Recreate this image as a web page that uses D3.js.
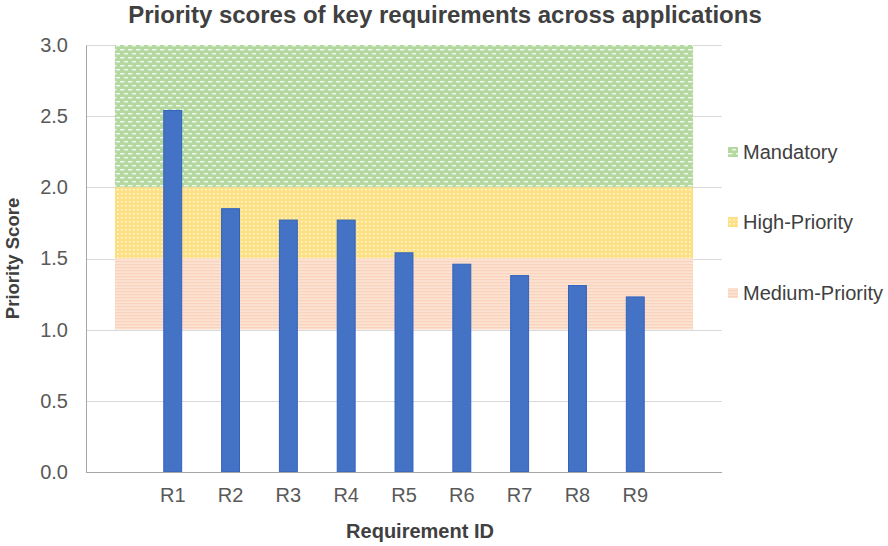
<!DOCTYPE html>
<html>
<head>
<meta charset="utf-8">
<script src="https://cdn.jsdelivr.net/npm/d3@7"></script>
<style>
  body { margin: 0; background: #fff; }
  text { font-family: "Liberation Sans", Arial, sans-serif; }
</style>
</head>
<body>
<div id="chart"></div>
<script>
// data
const requirements = ["R1", "R2", "R3", "R4", "R5", "R6", "R7", "R8", "R9"];
const scores = [2.54, 1.85, 1.77, 1.77, 1.54, 1.46, 1.38, 1.31, 1.23];
const bandNames = ["Mandatory", "High-Priority", "Medium-Priority"];
const bandLower = [2.0, 1.5, 1.0];
const bandUpper = [3.0, 2.0, 1.5];
const yTicks = [0, 0.5, 1.0, 1.5, 2.0, 2.5, 3.0];

const width = 888, height = 546;
const margin = { top: 45, right: 166, bottom: 74, left: 86 };

const svg = d3.select("#chart").append("svg")
    .attr("width", width)
    .attr("height", height)
    .attr("viewBox", [0, 0, width, height]);

// fill patterns, roughly like the office ones
const defs = svg.append("defs");

const pGreen = defs.append("pattern").attr("id", "pat-mandatory")
    .attr("patternUnits", "userSpaceOnUse").attr("width", 8).attr("height", 8);
pGreen.append("rect").attr("width", 8).attr("height", 8).attr("fill", "#b4d9a0");
pGreen.append("rect").attr("x", 0).attr("y", 1).attr("width", 4.5).attr("height", 1.4).attr("fill", "#f4faf0");
pGreen.append("rect").attr("x", 4).attr("y", 5).attr("width", 4.5).attr("height", 1.4).attr("fill", "#f4faf0");

const pYellow = defs.append("pattern").attr("id", "pat-high")
    .attr("patternUnits", "userSpaceOnUse").attr("width", 4).attr("height", 4);
pYellow.append("rect").attr("width", 4).attr("height", 4).attr("fill", "#fee084");
pYellow.append("rect").attr("x", 1).attr("y", 1).attr("width", 1.6).attr("height", 1.6).attr("fill", "#fff6d8");

const pPeach = defs.append("pattern").attr("id", "pat-medium")
    .attr("patternUnits", "userSpaceOnUse").attr("width", 4).attr("height", 3);
pPeach.append("rect").attr("width", 4).attr("height", 3).attr("fill", "#f9d3bb");
pPeach.append("rect").attr("y", 1.5).attr("width", 4).attr("height", 1.2).attr("fill", "#fde9dc");

const bandFill = ["url(#pat-mandatory)", "url(#pat-high)", "url(#pat-medium)"];

const x = d3.scaleBand()
    .domain(requirements)
    .range([margin.left, width - margin.right])
    .paddingInner(0.69)
    .paddingOuter(1.345);

const y = d3.scaleLinear()
    .domain([0, 3])
    .range([height - margin.bottom, margin.top]);

// grid lines
svg.append("g")
    .attr("stroke", "#d9d9d9")
    .attr("stroke-width", 1)
    .selectAll("line")
    .data(yTicks.filter(d => d > 0))
    .join("line")
    .attr("x1", margin.left)
    .attr("x2", width - margin.right)
    .attr("y1", d => Math.round(y(d)) + 0.5)
    .attr("y2", d => Math.round(y(d)) + 0.5);

// priority bands run from the centre of the empty slot before R1 to the one after R9
const bandX0 = x(requirements[0]) + x.bandwidth() / 2 - x.step();
const bandX1 = x(requirements[requirements.length - 1]) + x.bandwidth() / 2 + x.step();

svg.append("g")
    .selectAll("rect")
    .data(bandNames)
    .join("rect")
    .attr("x", bandX0)
    .attr("width", bandX1 - bandX0)
    .attr("y", (d, i) => y(bandUpper[i]))
    .attr("height", (d, i) => y(bandLower[i]) - y(bandUpper[i]))
    .attr("fill", (d, i) => bandFill[i]);

// bars
svg.append("g")
    .selectAll("rect")
    .data(requirements)
    .join("rect")
    .attr("x", d => x(d))
    .attr("width", x.bandwidth())
    .attr("y", (d, i) => y(scores[i]))
    .attr("height", (d, i) => y(0) - y(scores[i]))
    .attr("fill", "#4472c4")
    .attr("stroke", "#3263bd")
    .attr("stroke-width", 1);

// axes
const yAxis = g => g
    .attr("transform", `translate(${margin.left},0)`)
    .call(d3.axisLeft(y).tickValues(yTicks).tickFormat(d3.format(".1f")).tickSize(0).tickPadding(18))
    .call(g => g.select(".domain").attr("stroke", "#a6a6a6"))
    .call(g => g.selectAll(".tick text")
        .attr("font-family", "Liberation Sans, Arial, sans-serif")
        .attr("font-size", 20)
        .attr("fill", "#595959"));

const xAxis = g => g
    .attr("transform", `translate(0,${y(0)})`)
    .call(d3.axisBottom(x).tickSize(0).tickPadding(16).tickSizeOuter(0))
    .call(g => g.select(".domain").attr("stroke", "#a6a6a6")
        .attr("d", `M${margin.left},0.5H${width - margin.right}`))
    .call(g => g.selectAll(".tick text")
        .attr("font-family", "Liberation Sans, Arial, sans-serif")
        .attr("font-size", 20)
        .attr("fill", "#595959"));

svg.append("g").call(yAxis);
svg.append("g").call(xAxis);

// titles
svg.append("text")
    .attr("x", 445)
    .attr("y", 23)
    .attr("text-anchor", "middle")
    .attr("font-size", 24)
    .attr("font-weight", "bold")
    .attr("fill", "#404040")
    .text("Priority scores of key requirements across applications");

svg.append("text")
    .attr("x", 420)
    .attr("y", 538)
    .attr("text-anchor", "middle")
    .attr("font-size", 20)
    .attr("font-weight", "bold")
    .attr("fill", "#404040")
    .text("Requirement ID");

svg.append("text")
    .attr("transform", `translate(19,${(margin.top + y(0)) / 2}) rotate(-90)`)
    .attr("text-anchor", "middle")
    .attr("font-size", 18.5)
    .attr("font-weight", "bold")
    .attr("fill", "#404040")
    .text("Priority Score");

// legend
const legendY = [152, 222, 293];
const legend = svg.append("g")
    .selectAll("g")
    .data(bandNames)
    .join("g")
    .attr("transform", (d, i) => `translate(728,${legendY[i]})`);

legend.append("rect")
    .attr("x", 0)
    .attr("y", -5)
    .attr("width", 10)
    .attr("height", 10)
    .attr("fill", (d, i) => bandFill[i]);

legend.append("text")
    .attr("x", 15)
    .attr("y", 7)
    .attr("font-size", 20)
    .attr("fill", "#404040")
    .text(d => d);
</script>
</body>
</html>
